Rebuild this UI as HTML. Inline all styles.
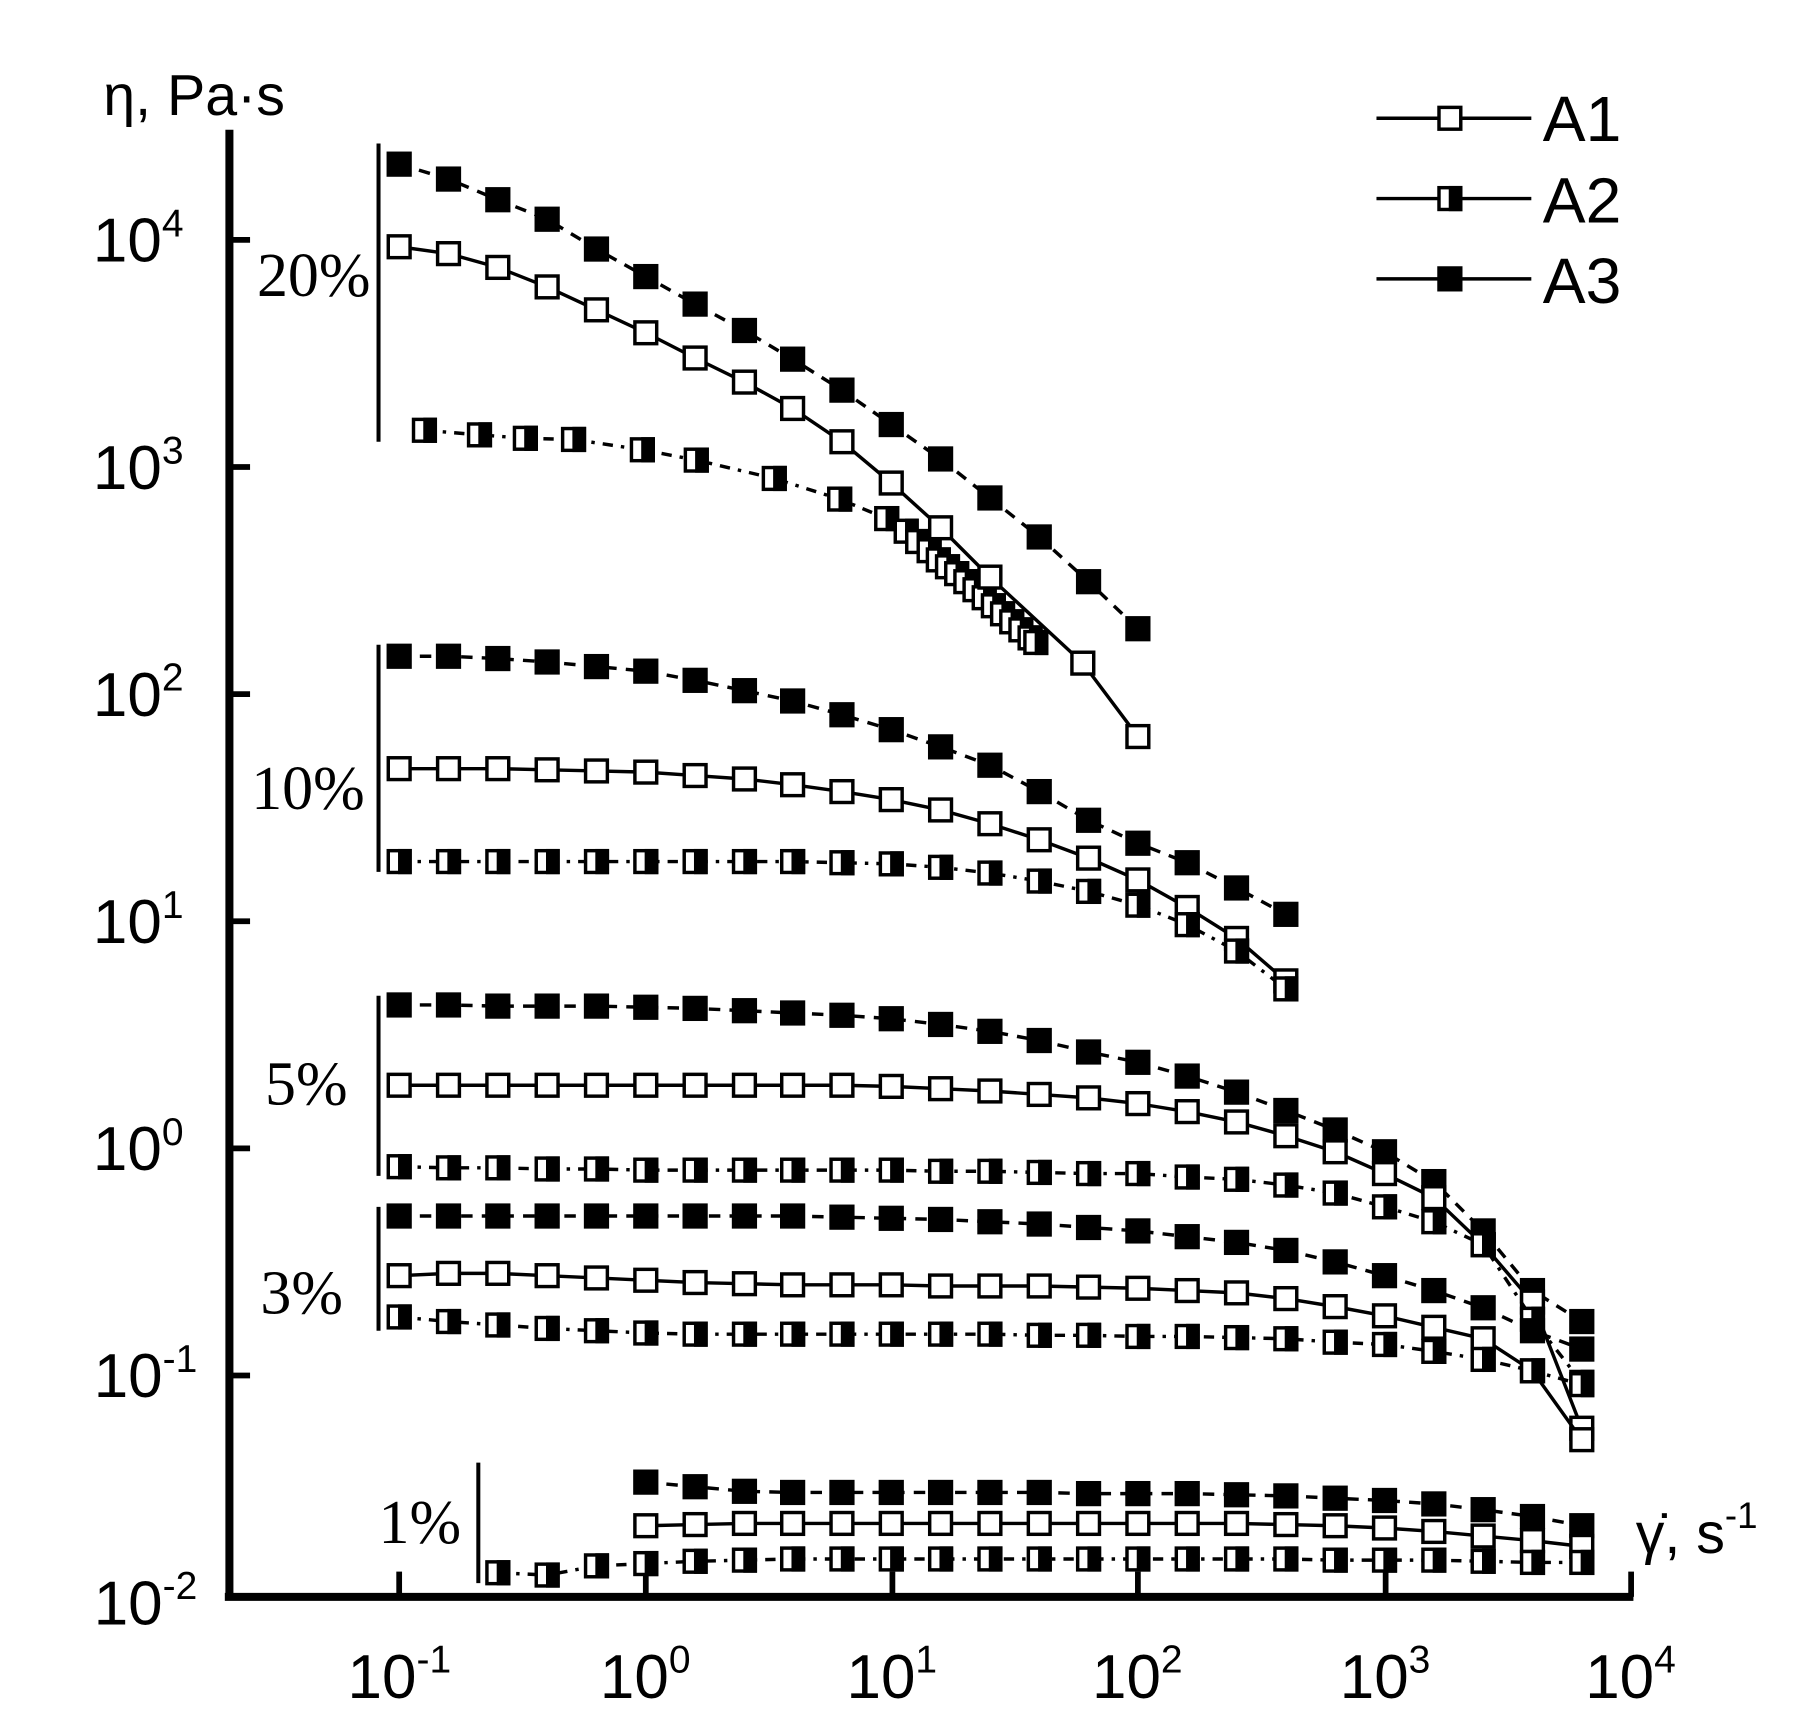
<!DOCTYPE html>
<html><head><meta charset="utf-8"><style>
html,body{margin:0;padding:0;background:#fff;}
svg{display:block;}
.t{font-family:"Liberation Sans",sans-serif;fill:#000;}
.s{font-family:"Liberation Serif",serif;fill:#000;}
</style></head><body>
<svg id="c" width="1794" height="1722" viewBox="0 0 1564 1501" xmlns="http://www.w3.org/2000/svg">
<rect width="1564" height="1501" fill="#fff"/>
<g stroke="#000" stroke-width="7" fill="none">
<line x1="200" y1="113" x2="200" y2="1395"/>
<line x1="196" y1="1392" x2="1424" y2="1392"/>
</g>
<g stroke="#000" stroke-width="5">
<line x1="200" y1="209" x2="218" y2="209"/><line x1="200" y1="407" x2="218" y2="407"/>
<line x1="200" y1="605" x2="218" y2="605"/><line x1="200" y1="803" x2="218" y2="803"/>
<line x1="200" y1="1001" x2="218" y2="1001"/><line x1="200" y1="1199" x2="218" y2="1199"/>
<line x1="348" y1="1392" x2="348" y2="1370"/><line x1="563" y1="1392" x2="563" y2="1370"/>
<line x1="778" y1="1392" x2="778" y2="1370"/><line x1="992" y1="1392" x2="992" y2="1370"/>
<line x1="1208" y1="1392" x2="1208" y2="1370"/><line x1="1422" y1="1392" x2="1422" y2="1370"/>
</g>
<g stroke="#000" stroke-width="3.5">
<line x1="330" y1="125" x2="330" y2="385"/>
<line x1="330" y1="562" x2="330" y2="760"/>
<line x1="330" y1="868" x2="330" y2="1025"/>
<line x1="330" y1="1052" x2="330" y2="1160"/>
<line x1="417" y1="1275" x2="417" y2="1380"/>
</g>
<g class="t" font-size="54" text-anchor="end">
<text x="160" y="228">10<tspan dy="-22" font-size="34">4</tspan></text>
<text x="160" y="426">10<tspan dy="-22" font-size="34">3</tspan></text>
<text x="160" y="624">10<tspan dy="-22" font-size="34">2</tspan></text>
<text x="160" y="822">10<tspan dy="-22" font-size="34">1</tspan></text>
<text x="160" y="1020">10<tspan dy="-22" font-size="34">0</tspan></text>
<text x="172" y="1218">10<tspan dy="-22" font-size="34">-1</tspan></text>
<text x="172" y="1416">10<tspan dy="-22" font-size="34">-2</tspan></text>
</g>
<g class="t" font-size="54">
<text x="303" y="1480">10<tspan dy="-22" font-size="34">-1</tspan></text>
<text x="523" y="1480">10<tspan dy="-22" font-size="34">0</tspan></text>
<text x="738" y="1480">10<tspan dy="-22" font-size="34">1</tspan></text>
<text x="952" y="1480">10<tspan dy="-22" font-size="34">2</tspan></text>
<text x="1168" y="1480">10<tspan dy="-22" font-size="34">3</tspan></text>
<text x="1382" y="1480">10<tspan dy="-22" font-size="34">4</tspan></text>
<text x="90" y="100" font-size="50">η, Pa·s</text>
<text x="1426" y="1354" font-size="50">γ̇, s<tspan dy="-22" font-size="32">-1</tspan></text>
<text x="1345" y="123" font-size="56">A1</text>
<text x="1345" y="194" font-size="56">A2</text>
<text x="1345" y="264" font-size="56">A3</text>
</g>
<g class="s" font-size="54">
<text x="224" y="258">20%</text>
<text x="219" y="705">10%</text>
<text x="231" y="963">5%</text>
<text x="227" y="1145">3%</text>
<text x="330" y="1345">1%</text>
</g>
<g id="d"></g>
</svg>
<script>
var g=document.getElementById('d'),NS='http://www.w3.org/2000/svg';
function el(n,a){var e=document.createElementNS(NS,n);for(var k in a)e.setAttribute(k,a[k]);g.appendChild(e);return e;}
var X=[348,391,434,477,520,563,606,649,691,734,777,820,863,906,949,992,1035,1078,1121,1164,1207,1250,1293,1336,1379];
function ser(type,pts){
 var p=pts.map(function(q){return q.join(',')}).join(' ');
 var dash=type==1?'':(type==2?'9,7,3,7':'10,8');
 el('polyline',{points:p,fill:'none',stroke:'#000','stroke-width':3,'stroke-dasharray':dash});
 pts.forEach(function(q){mk(type,q[0],q[1]);});
}
function mk(type,x,y){var h=11;
 if(type==3)el('rect',{x:x-h,y:y-h,width:2*h,height:2*h,fill:'#000'});
 else{el('rect',{x:x-h+1.5,y:y-h+1.5,width:2*h-3,height:2*h-3,fill:'#fff',stroke:'#000','stroke-width':3});
  if(type==2)el('rect',{x:x-1,y:y-h,width:h+1,height:2*h,fill:'#000'});}
}
function fx(ys,start){return ys.map(function(y,i){return [X[i+(start||0)],y]});}
// 20%
ser(3,fx([143,156,174,191,217,241,265,288,313,340,370,400,434,468,507,548]));
ser(2,[[370,375],[418,379],[458,382],[500,383],[560,392],[607,401],[675,417],[732,435],[773,452],[790,463],[800,472],[810,480],[818,488],[826,494],[834,500],[842,507],[850,514],[858,521],[866,528],[874,535],[882,542],[890,549],[898,556],[903,560]]);
ser(1,fx([215,221,233,250,270,290,312,333,356,385,421,460,503]).concat([[944,578],[992,642]]));
// 10%
ser(3,fx([572,572,574,577,581,585,593,602,611,623,636,651,667,690,715,735,752,774,797]));
ser(1,fx([670,670,670,671,672,673,676,679,684,690,697,706,718,732,748,767,791,818,855]));
ser(2,fx([751,751,751,751,751,751,751,751,751,752,753,756,761,768,777,789,806,829,862]));
// 5%
ser(3,fx([876,876,877,877,877,878,879,881,883,885,888,893,899,907,917,926,938,952,968,985,1004,1030,1073,1125,1152]));
ser(1,fx([946,946,946,946,946,946,946,946,946,946,947,949,951,954,957,962,969,978,990,1004,1023,1044,1085,1135,1245]));
ser(2,fx([1017,1018,1018,1019,1019,1020,1020,1020,1020,1020,1020,1021,1021,1022,1023,1023,1026,1028,1033,1040,1052,1065,1085,1150,1205]));
// 3%
ser(3,fx([1060,1060,1060,1060,1060,1060,1060,1060,1060,1061,1062,1063,1065,1067,1070,1073,1078,1083,1090,1100,1112,1125,1140,1160,1176]));
ser(1,fx([1112,1110,1110,1112,1114,1116,1118,1119,1120,1120,1120,1121,1121,1121,1122,1123,1125,1127,1132,1139,1147,1157,1167,1195,1255]));
ser(2,fx([1148,1152,1155,1158,1160,1162,1163,1163,1163,1163,1163,1163,1163,1164,1164,1165,1165,1166,1167,1170,1172,1178,1185,1195,1207]));
// 1%
ser(3,fx([1292,1296,1300,1301,1301,1301,1301,1301,1301,1302,1302,1302,1303,1304,1306,1308,1311,1316,1322,1330],5));
ser(1,fx([1330,1329,1328,1328,1328,1328,1328,1328,1328,1328,1328,1328,1328,1329,1330,1332,1335,1339,1343,1348],5));
ser(2,fx([1371,1373,1365,1363,1361,1360,1359,1359,1359,1359,1359,1359,1359,1359,1359,1359,1359,1360,1360,1360,1361,1362,1362],2));
// legend
[[103,1],[173,2],[243,3]].forEach(function(l){el('line',{x1:1200,y1:l[0],x2:1335,y2:l[0],stroke:'#000','stroke-width':3});mk(l[1],1264,l[0]);});
</script>
</body></html>
